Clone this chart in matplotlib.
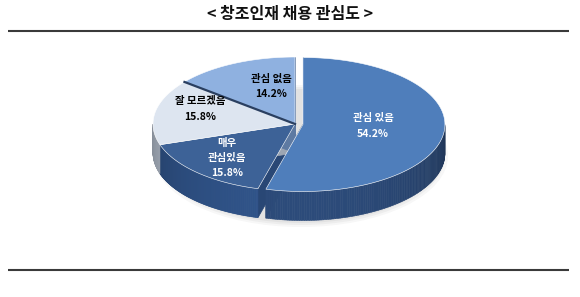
import numpy as np
import matplotlib.pyplot as plt
from matplotlib.patches import Polygon, Ellipse
from matplotlib.colors import to_rgb

plt.rcParams['font.family'] = ['Noto Sans CJK KR', 'DejaVu Sans']

# data
title = '< 창조인재 채용 관심도 >'
labels = ['관심 있음', '매우\n관심있음', '잘 모르겠음', '관심 없음']
values = [54.2, 15.8, 15.8, 14.2]

# style
top_colors = ['#4f7ebb', '#3d6297', '#dde5f0', '#8fb1e0']
side_colors = ['#2c4b7a', '#30548a', '#b9c3d2', '#6f8fbf']
text_colors = ['white', 'white', 'black', 'black']
explode = [8, 0, 0, 0]
label_pos = [(373, 126), (227, 158), (200, 109), (271, 86)]

fig = plt.figure(figsize=(5.8, 2.97), dpi=100)
ax = fig.add_axes([0, 0, 1, 1])
ax.set_xlim(0, 580)
ax.set_ylim(297, 0)
ax.axis('off')

# title + rules
ax.text(290, 14, title, ha='center', va='center', fontsize=11.5, fontweight='bold', color='#111111')
ax.plot([8, 569], [31, 31], color='#3a3a3a', lw=1.5, solid_capstyle='butt')
ax.plot([8, 569], [270, 270], color='#3a3a3a', lw=1.5, solid_capstyle='butt')

cx, cy, rx, ry, depth = 295, 124, 142, 67, 29

# slice angles, start at 12 o'clock, clockwise
frac = np.array(values) / sum(values)
ends = np.radians(90 - 360 * np.cumsum(frac))
starts = np.concatenate([[np.radians(90)], ends[:-1]])

centers = []
for i in range(len(values)):
    m = (starts[i] + ends[i]) / 2
    centers.append((cx + explode[i] * np.cos(m), cy - explode[i] * np.sin(m) * ry / rx))


def rim(t, c, dz=0):
    return c[0] + rx * np.cos(t), c[1] - ry * np.sin(t) + dz


# soft shadow
for k, a in enumerate([0.08, 0.10, 0.12]):
    ax.add_patch(Ellipse((cx + 6, cy + depth + 3), 2 * rx + 10 - 6 * k, 2 * ry + 8 - 4 * k,
                         color='#9a9a9a', alpha=a, lw=0))

# radial walls
for i in range(len(values)):
    c = centers[i]
    sc = np.array(to_rgb(side_colors[i])) * 0.85
    for t in (starts[i], ends[i]):
        x1, y1 = rim(t, c)
        pts = [(c[0], c[1]), (x1, y1), (x1, y1 + depth), (c[0], c[1] + depth)]
        ax.add_patch(Polygon(pts, closed=True, fc=sc, ec=sc, lw=0.5))

# outer walls (front half only)
for i in range(len(values)):
    c = centers[i]
    base = np.array(to_rgb(side_colors[i]))
    ts = np.linspace(ends[i], starts[i], 200)
    for t0, t1 in zip(ts[:-1], ts[1:]):
        tm = (t0 + t1) / 2
        if np.sin(tm) > 0:
            continue
        f = 0.72 + 0.28 * (-np.sin(tm))
        col = np.clip(base * f, 0, 1)
        xa, ya = rim(t0, c)
        xb, yb = rim(t1, c)
        pts = [(xa, ya), (xb, yb), (xb, yb + depth), (xa, ya + depth)]
        ax.add_patch(Polygon(pts, closed=True, fc=col, ec=col, lw=0.4))

# top faces
for i in range(len(values)):
    c = centers[i]
    ts = np.linspace(starts[i], ends[i], 200)
    xs, ys = rim(ts, c)
    pts = [(c[0], c[1])] + list(zip(xs, ys))
    ax.add_patch(Polygon(pts, closed=True, fc=top_colors[i], ec='#ffffff', lw=0.4))

# dark boundary between 잘 모르겠음 and 관심 없음
xb, yb = rim(starts[3], centers[3])
ax.plot([centers[3][0], xb], [centers[3][1], yb], color='#2a3f60', lw=1.6)

# labels
for i in range(len(values)):
    ax.text(label_pos[i][0], label_pos[i][1], f'{labels[i]}\n{values[i]:.1f}%',
            ha='center', va='center', fontsize=7.5, fontweight='bold',
            color=text_colors[i], linespacing=1.65)

fig.savefig('out.png', dpi=100)
